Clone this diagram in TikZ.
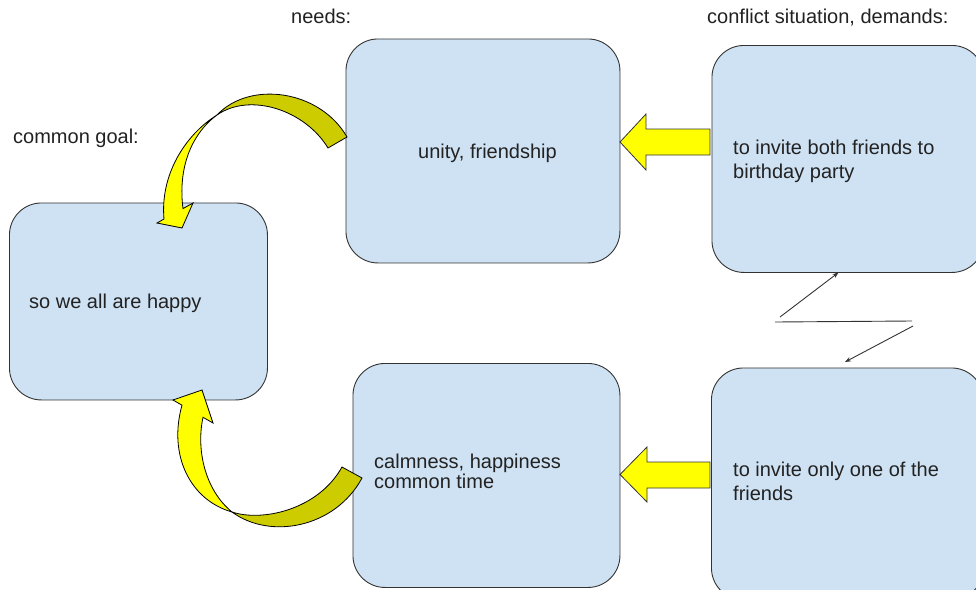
\documentclass[tikz,border=0pt]{standalone}
\usepackage{fontspec}
\setmainfont{Liberation Sans}
\usetikzlibrary{arrows.meta}
\definecolor{boxblue}{HTML}{CFE2F3}
\definecolor{inkgray}{HTML}{222222}
\definecolor{edgegray}{HTML}{333333}
\definecolor{ribbonfront}{HTML}{FFFF00}
\definecolor{ribbonback}{HTML}{CCCC00}
\begin{document}
\begin{tikzpicture}[x=1pt,y=-1pt,
  card/.style={draw=edgegray, fill=boxblue, line width=0.9pt, rounded corners=32pt,
    inner sep=0pt, anchor=north west},
  lbl/.style={anchor=base west, inner sep=0pt, text=inkgray, font=\fontsize{20}{24}\selectfont},
  blockarrow/.style={draw=edgegray, fill=ribbonfront, line width=0.8pt, line join=miter},
  ribbonA/.style={draw=black, fill=ribbonback, line width=0.8pt},
  ribbonB/.style={draw=black, fill=ribbonfront, line width=0.8pt},
  thinlink/.style={draw=edgegray, line width=0.9pt, -{Stealth[length=6pt,width=4.5pt]}},
  thinline/.style={draw=edgegray, line width=0.9pt}]

\useasboundingbox (0,0) rectangle (976,589);
\clip (0,0) rectangle (976,589);

% boxes
\node[card, minimum width=258pt, minimum height=197pt] (goal) at (9,202.5) {};
\node[card, minimum width=274pt, minimum height=224pt] (needs) at (345.5,38.5) {};
\node[card, minimum width=272pt, minimum height=227pt] (demandA) at (711.5,45) {};
\node[card, minimum width=267pt, minimum height=224pt] (calm) at (352.5,363) {};
\node[card, minimum width=272pt, minimum height=232pt] (demandB) at (711,367.5) {};

% headings
\node[lbl] (hneeds) at (291,23) {needs:};
\node[lbl] (hconflict) at (707,23) {conflict situation, demands:};
\node[lbl] (hgoal) at (13,143) {common goal:};

% box texts
\node[lbl, anchor=base] (tunity) at (487.5,158) {unity, friendship};
\node[lbl] (tA1) at (733,154) {to invite both friends to};
\node[lbl] (tA2) at (733,178) {birthday party};
\node[lbl] (thappy) at (29,308) {so we all are happy};
\node[lbl] (tcalm1) at (374,468) {calmness, happiness};
\node[lbl] (tcalm2) at (374,488) {common time};
\node[lbl] (tB1) at (733,476.5) {to invite only one of the};
\node[lbl] (tB2) at (733,500) {friends};

% block arrows from the demands to the needs
\path[blockarrow] (710,129) -- (646,129) -- (646,114) -- (620,142) -- (646,170)
  -- (646,155) -- (710,155) -- cycle;
\path[blockarrow] (710,462) -- (647,462) -- (647,447) -- (620,474.5) -- (647,502)
  -- (647,488) -- (710,488) -- cycle;

% curved ribbon arrow: needs -> common goal
\path[ribbonA] (347,137) .. controls (320,90) and (250,80) .. (217,115)
  .. controls (250,92) and (305,110) .. (328,148) -- cycle;
\path[ribbonB] (217,115) .. controls (185,135) and (160,175) .. (164,219)
  -- (157,223) -- (182,228) -- (193,203) -- (183,208.6)
  .. controls (178,170) and (190,135) .. (217,115) -- cycle;

% curved ribbon arrow: calmness -> common goal
\path[ribbonA] (362,478) .. controls (335,528) and (270,540) .. (232,512)
  .. controls (262,522) and (318,510) .. (342,467) -- cycle;
\path[ribbonB] (232,512) .. controls (190,500) and (168,455) .. (182,405.2)
  -- (173,400) -- (202,390) -- (213,423) -- (203,417.3)
  .. controls (196,450) and (205,490) .. (232,512) -- cycle;

% zigzag between the two demands
\coordinate (zA) at (780,317);
\coordinate (zAend) at (838.5,272.5);
\coordinate (zL) at (775,322);
\coordinate (zR) at (912,321);
\coordinate (zB) at (913,326);
\coordinate (zBend) at (845,362);
\draw[thinlink] (zA) -- (zAend);
\draw[thinline] (zL) -- (zR);
\draw[thinlink] (zB) -- (zBend);
\end{tikzpicture}
\end{document}
